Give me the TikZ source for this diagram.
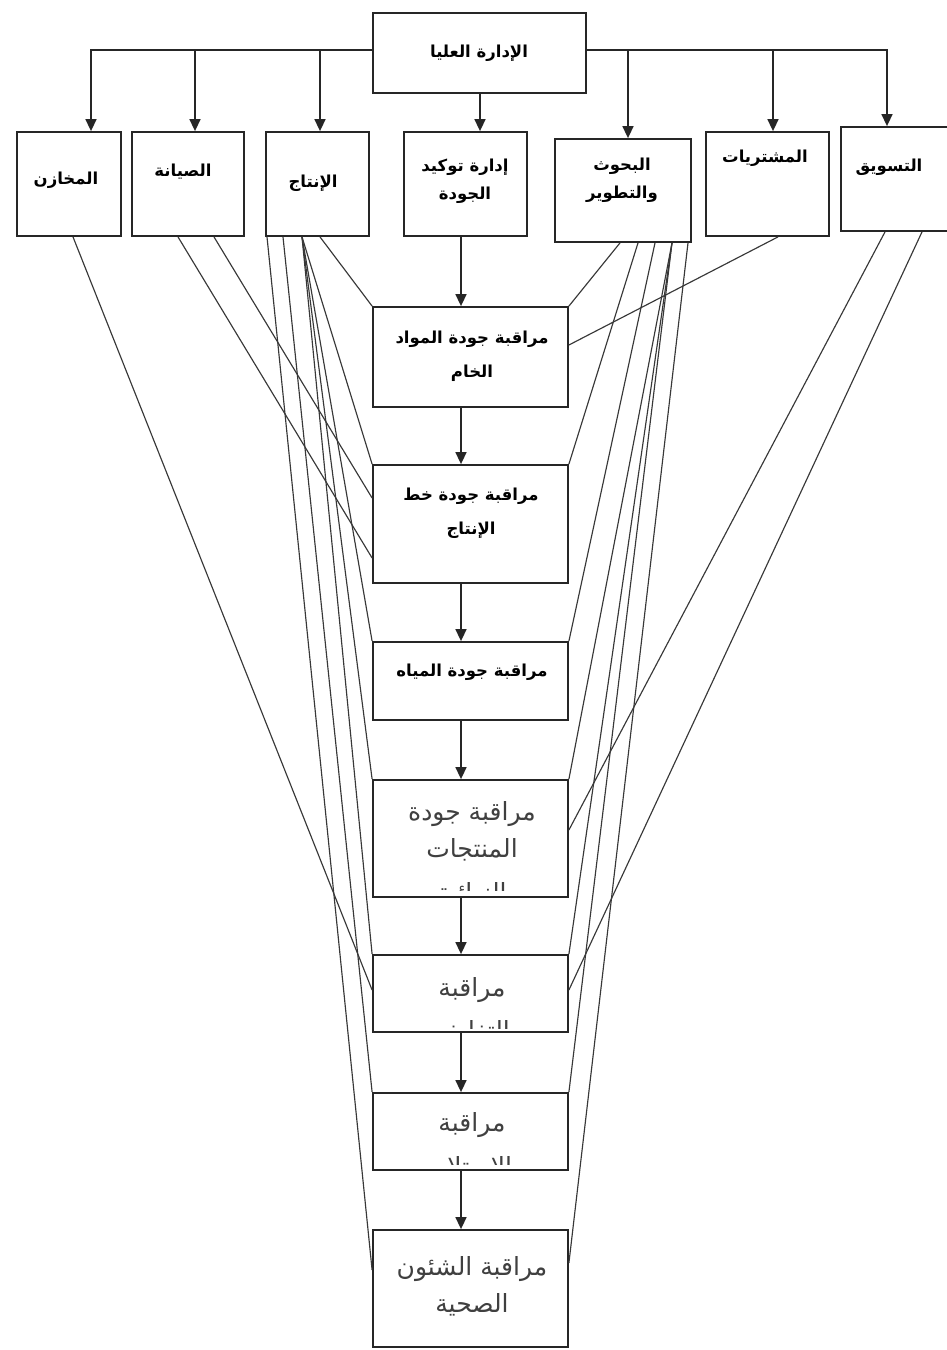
\documentclass[tikz,border=0pt]{standalone}
\usepackage{fontspec}
\newfontfamily\arabicfont[Script=Arabic]{DejaVu Sans}
\TeXXeTstate=1
\usetikzlibrary{arrows.meta,calc}
\newcommand\ar[1]{{\arabicfont\beginR #1\endR}}

\tikzset{
  box/.style={draw=black!85, line width=1.8pt, inner sep=0pt},
  hd/.style={font=\arabicfont\bfseries\fontsize{16.5}{28}\selectfont, align=center, inner sep=0pt},
  cb/.style={font=\arabicfont\bfseries\fontsize{16.5}{34}\selectfont, align=center, inner sep=0pt},
  ct/.style={font=\arabicfont\fontsize{25}{37}\selectfont, align=center, inner sep=0pt, text=black!75},
  arr/.style={line width=1.5pt, draw=black!85, -{Triangle[length=12pt,width=11pt]}},
  link/.style={line width=1.15pt, draw=black!78},
}

\begin{document}
\begin{tikzpicture}[x=1pt,y=-1pt]
\useasboundingbox (0,0) rectangle (947,1350);
\fill[white] (0,0) rectangle (947,1350);

% top management
\node[box, minimum width=213, minimum height=80] (top) at (479.5,53) {};
\node[hd] (t-top) at (479,53) {\ar{الإدارة العليا}};

% departments
\node[box, minimum width=104, minimum height=104] (store) at (69,184) {};
\node[box, minimum width=112, minimum height=104] (maint) at (188,184) {};
\node[box, minimum width=103, minimum height=104] (prod) at (317.5,184) {};
\node[box, minimum width=123, minimum height=104] (qa) at (465.5,184) {};
\node[box, minimum width=136, minimum height=103] (rnd) at (623,190.5) {};
\node[box, minimum width=123, minimum height=104] (purch) at (767.5,184) {};
\node[box, minimum width=109, minimum height=104] (mkt) at (895.5,179) {};

\node[hd] (t-store) at (66,180) {\ar{المخازن}};
\node[hd] (t-maint) at (183,172) {\ar{الصيانة}};
\node[hd] (t-prod) at (313,183) {\ar{الإنتاج}};
\node[hd] (t-qa) at (465,181) {\ar{إدارة توكيد}\\\ar{الجودة}};
\node[hd] (t-rnd) at (622,180) {\ar{البحوث}\\\ar{والتطوير}};
\node[hd] (t-purch) at (765,158) {\ar{المشتريات}};
\node[hd] (t-mkt) at (889,167) {\ar{التسويق}};

% quality control chain
\node[box, minimum width=195, minimum height=100] (b1) at (470.5,357) {};
\node[box, minimum width=195, minimum height=118] (b2) at (470.5,524) {};
\node[box, minimum width=195, minimum height=78]  (b3) at (470.5,681) {};
\node[box, minimum width=195, minimum height=117] (b4) at (470.5,838.5) {};
\node[box, minimum width=195, minimum height=77]  (b5) at (470.5,993.5) {};
\node[box, minimum width=195, minimum height=77]  (b6) at (470.5,1131.5) {};
\node[box, minimum width=195, minimum height=117] (b7) at (470.5,1288.5) {};

\node[cb] (t-b1) at (472,356) {\ar{مراقبة جودة المواد}\\\ar{الخام}};
\node[cb] (t-b2) at (471,513) {\ar{مراقبة جودة خط}\\\ar{الإنتاج}};
\node[cb] (t-b3) at (472,672) {\ar{مراقبة جودة المياه}};
\node[ct] (t-b4) at (472,831) {\ar{مراقبة جودة}\\\ar{المنتجات}};
\node[ct] (t-b5) at (472,990) {\ar{مراقبة}};
\node[ct] (t-b6) at (472,1125) {\ar{مراقبة}};
\node[ct] (t-b7) at (472,1286) {\ar{مراقبة الشئون}\\\ar{الصحية}};

% last lines cut off by the box frames
\begin{scope}
  \clip (373,870) rectangle (568,890);
  \node[ct, anchor=base] (c-b4) at (472,901) {\ar{النهائية}};
\end{scope}
\begin{scope}
  \clip (373,1008) rectangle (568,1028);
  \node[ct, anchor=base] (c-b5) at (472,1039) {\ar{التغليف}};
\end{scope}
\begin{scope}
  \clip (373,1144) rectangle (568,1164);
  \node[ct, anchor=base] (c-b6) at (472,1175) {\ar{الاستلام}};
\end{scope}

% branches from top management
\coordinate (hy) at (0,50);
\coordinate (ax) at (461,0);
\draw[arr] (top.west |- hy) -| ([xshift=22pt]store.north);
\draw[arr] ([xshift=7pt]maint.north |- hy) -- ([xshift=7pt]maint.north);
\draw[arr] ([xshift=2.5pt]prod.north |- hy) -- ([xshift=2.5pt]prod.north);
\draw[arr] ([xshift=0.5pt]top.south) -- ([xshift=0.5pt]top.south |- qa.north);
\draw[arr] (top.east |- hy) -| ([xshift=-8.5pt]mkt.north);
\draw[arr] ([xshift=5pt]rnd.north |- hy) -- ([xshift=5pt]rnd.north);
\draw[arr] ([xshift=5.5pt]purch.north |- hy) -- ([xshift=5.5pt]purch.north);

% chain arrows
\draw[arr] (qa.south -| ax) -- (b1.north -| ax);
\draw[arr] (b1.south -| ax) -- (b2.north -| ax);
\draw[arr] (b2.south -| ax) -- (b3.north -| ax);
\draw[arr] (b3.south -| ax) -- (b4.north -| ax);
\draw[arr] (b4.south -| ax) -- (b5.north -| ax);
\draw[arr] (b5.south -| ax) -- (b6.north -| ax);
\draw[arr] (b6.south -| ax) -- (b7.north -| ax);

% links from the left departments
\draw[link] ([xshift=4pt]store.south) -- ([yshift=3.5pt]b5.west);
\draw[link] ([xshift=-10pt]maint.south) -- ([yshift=-34pt]b2.west);
\draw[link] ([xshift=26pt]maint.south) -- ([yshift=26pt]b2.west);
\draw[link] ([xshift=-50.5pt]prod.south) -- ([yshift=18.5pt]b7.west);
\draw[link] ([xshift=-34.5pt]prod.south) -- (b6.north west);
\foreach \b in {b2,b3,b4,b5}
  \draw[link] ([xshift=-15.5pt]prod.south) -- (\b.north west);
\draw[link] ([xshift=2.5pt]prod.south) -- (b1.north west);

% links from the right departments
\draw[link] ([xshift=-3pt]rnd.south) -- (b1.north east);
\draw[link] ([xshift=15pt]rnd.south) -- (b2.north east);
\draw[link] ([xshift=32pt]rnd.south) -- (b3.north east);
\foreach \b in {b4,b5,b6}
  \draw[link] ([xshift=49pt]rnd.south) -- (\b.north east);
\draw[link] ([xshift=65pt]rnd.south) -- ([yshift=25.5pt]b7.east);
\draw[link] ([xshift=10.5pt]purch.south) -- ([yshift=12pt]b1.east);
\draw[link] ([xshift=-10.5pt]mkt.south) -- ([yshift=8.5pt]b4.east);
\draw[link] ([xshift=26.5pt]mkt.south) -- ([yshift=3.5pt]b5.east);
\end{tikzpicture}
\end{document}
